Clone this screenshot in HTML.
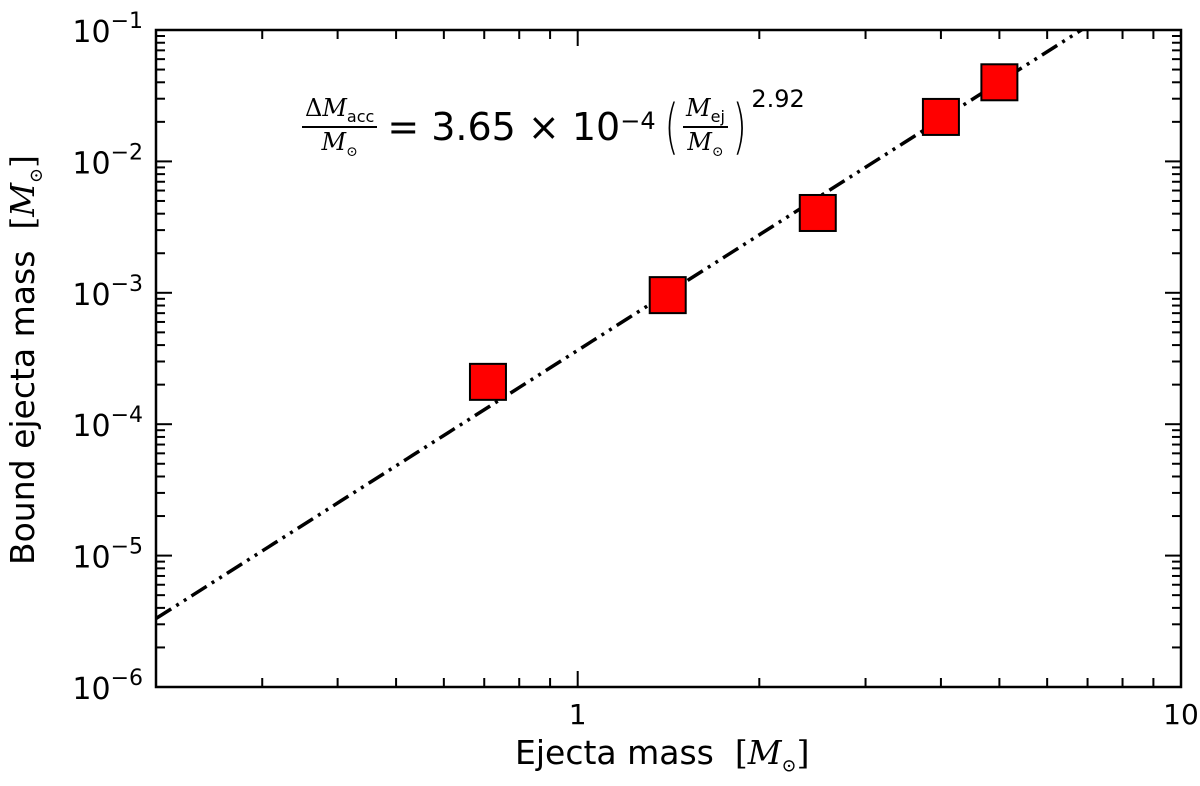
<!DOCTYPE html>
<html><head><meta charset="utf-8"><style>
body{margin:0;background:#fff;}
svg{display:block;font-family:"DejaVu Sans","Liberation Sans",sans-serif;}
</style></head><body>
<svg id="c" width="1200" height="786"></svg>
<script>
const xData=[0.71,1.41,2.5,4.0,5.0];
const yData=[2.1e-4,9.6e-4,4.05e-3,0.0218,0.040];
const fitA=3.65e-4, fitB=2.92;
const yTickExp=[-6,-5,-4,-3,-2,-1];
const xTickLabels=[[1,"1"],[10,"10"]];
const L=156,R=1181,T=30,B=687;
const xmin=0.2,xmax=10,ymin=1e-6,ymax=0.1;
const X=v=>L+(Math.log10(v)-Math.log10(xmin))/(Math.log10(xmax)-Math.log10(xmin))*(R-L);
const Y=v=>B-(Math.log10(v)-Math.log10(ymin))/(Math.log10(ymax)-Math.log10(ymin))*(B-T);
const s=document.getElementById('c');const NS="http://www.w3.org/2000/svg";
function mk(t,a,p){const e=document.createElementNS(NS,t);for(const k in a)e.setAttribute(k,a[k]);(p||s).appendChild(e);return e;}
const defs=mk('defs',{});const cp=mk('clipPath',{id:'cp'},defs);mk('rect',{x:L,y:T,width:R-L,height:B-T},cp);
let pts=[];for(let i=0;i<=200;i++){const lx=Math.log10(xmin)+i/200*(Math.log10(xmax)-Math.log10(xmin));const x=Math.pow(10,lx);pts.push(X(x)+","+Y(fitA*Math.pow(x,fitB)));}
const fl=mk('polyline',{points:pts.join(' '),fill:'none',stroke:'#000','stroke-width':3.5,'stroke-dasharray':'18 6 3 6 3 6','clip-path':'url(#cp)'});

xData.forEach((v,i)=>{const r=mk('rect',{x:X(v)-18,y:Y(yData[i])-18,width:36,height:36,fill:'#f00',stroke:'#000','stroke-width':2});
});
const fr=mk('rect',{x:L,y:T,width:R-L,height:B-T,fill:'none',stroke:'#000','stroke-width':2.5});

for(let d=-1;d<=1;d++)for(let m=1;m<10;m++){const v=m*Math.pow(10,d);if(v<xmin-1e-9||v>xmax+1e-9)continue;const x=X(v);const len=m==1?16:9;
mk('line',{x1:x,x2:x,y1:B,y2:B-len,stroke:'#000','stroke-width':2});mk('line',{x1:x,x2:x,y1:T,y2:T+len,stroke:'#000','stroke-width':2});}
xTickLabels.forEach(([v,t])=>{const e=mk('text',{x:X(v),y:B+37,'text-anchor':'middle','font-size':28});e.textContent=t;
});
for(let d=-6;d<=-2;d++)for(let m=1;m<10;m++){const v=m*Math.pow(10,d);const y=Y(v);const len=m==1?16:9;
mk('line',{x1:L,x2:L+len,y1:y,y2:y,stroke:'#000','stroke-width':2});mk('line',{x1:R,x2:R-len,y1:y,y2:y,stroke:'#000','stroke-width':2});}
yTickExp.forEach(e=>{const t=mk('text',{x:L-13,y:Y(Math.pow(10,e))+12,'text-anchor':'end','font-size':30});
const a=mk('tspan',{},t);a.textContent="10";const b=mk('tspan',{dy:-14,'font-size':22},t);b.textContent="\u2212"+(-e);
});
</script>
<div style="position:absolute;left:0;top:0;width:1200px;height:786px;pointer-events:none;font-family:'DejaVu Sans','Liberation Sans',sans-serif;">
<div style="position:absolute;left:515px;top:733px;font-size:33px;">Ejecta mass &nbsp;<span style="font-family:'DejaVu Serif',serif;">[<i>M</i><sub style="font-size:18px">⊙</sub>]</span></div>
<div style="position:absolute;left:25px;top:360px;font-size:33px;transform:translate(-50%,-50%) rotate(-90deg);transform-origin:center;white-space:nowrap;">Bound ejecta mass &nbsp;<span style="font-family:'DejaVu Serif',serif;">[<i>M</i><sub style="font-size:18px">⊙</sub>]</span></div>
<div style="position:absolute;left:302px;top:82px;height:90px;font-size:38px;display:flex;align-items:center;white-space:nowrap;">
<span style="display:inline-flex;flex-direction:column;align-items:center;font-size:24px;font-family:'DejaVu Serif',serif;margin-right:10px;"><span style="border-bottom:2px solid #000;padding:0 3px;">Δ<i>M</i><sub style="font-family:'DejaVu Sans';font-size:16px">acc</sub></span><span><i>M</i><sub style="font-size:14px">⊙</sub></span></span>
= 3.65 × 10<sup style="font-size:24px;position:relative;top:-6px">−4</sup><span style="font-size:60px;font-weight:100;margin-left:4px;transform:scaleX(0.6);display:inline-block">(</span><span style="display:inline-flex;flex-direction:column;align-items:center;font-size:24px;font-family:'DejaVu Serif',serif;"><span style="border-bottom:2px solid #000;padding:0 3px;"><i>M</i><sub style="font-family:'DejaVu Sans';font-size:16px">ej</sub></span><span><i>M</i><sub style="font-size:14px">⊙</sub></span></span><span style="font-size:60px;font-weight:100;transform:scaleX(0.6);display:inline-block">)</span><sup style="font-size:24px;position:relative;top:-28px">2.92</sup></div>
</div>
</body></html>
